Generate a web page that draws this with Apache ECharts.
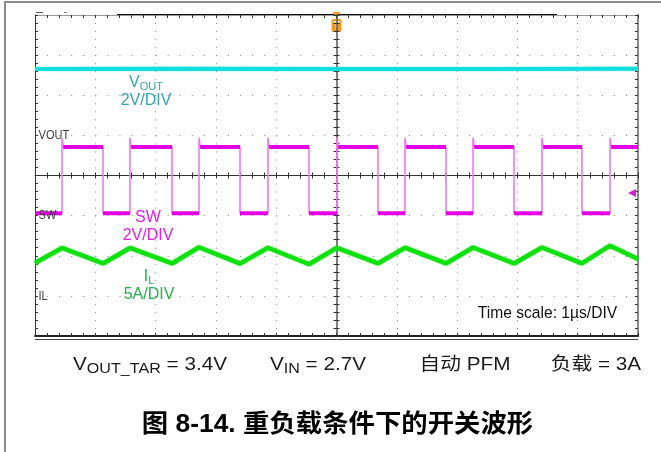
<!DOCTYPE html>
<html>
<head>
<meta charset="utf-8">
<script src="https://cdn.jsdelivr.net/npm/echarts@6/dist/echarts.min.js"></script>
<style>
  html, body { margin: 0; padding: 0; background: #ffffff; }
  #scope { width: 661px; height: 452px; }
</style>
</head>
<body>
<div id="scope"></div>
<script>
// ---- Capture settings ----------------------------------------------------
const timeSpan = [0, 10];            // µs across the screen (1 µs/div)
const triggerTime = 5;               // µs, trigger at screen centre
const triggerLevel = 1.13;           // V on the SW channel

// Channel scale (units per division) and ground marker (divisions from bottom)
const voutScale = 2, voutGround = 5;
const swScale = 2, swGround = 3;
const ilScale = 5, ilGround = 1;

// ---- Output voltage (V) -------------------------------------------------
const voutTime = [0, 2.5, 5, 7.5, 10];
const voutValue = [3.31, 3.32, 3.31, 3.31, 3.32];

// ---- Switch node (V) ----------------------------------------------------
const swRiseTimes = [0.448, 1.575, 2.720, 3.864, 5.008, 6.136, 7.264, 8.408, 9.536];
const swFallTimes = [1.128, 2.272, 3.400, 4.544, 5.688, 6.816, 7.944, 9.071];
const swHigh = 3.42;
const swLow = 0.12;
const swRingPeak = 3.88;

// ---- Inductor current (A) -----------------------------------------------
const ilTime  = [0, 0.448, 1.128, 1.575, 2.272, 2.720, 3.400, 3.864, 4.544, 5.008,
                 5.688, 6.136, 6.816, 7.264, 7.944, 8.408, 9.071, 9.536, 10];
const ilValue = [4.10, 5.97, 4.04, 5.97, 4.04, 6.06, 4.02, 6.00, 3.94, 5.99,
                 4.04, 6.00, 4.04, 6.03, 4.04, 6.03, 4.04, 6.25, 4.60];

// ---- Text ---------------------------------------------------------------
const timeScaleText = 'Time scale: 1µs/DIV';
const conditionTexts = ['V_OUT_TAR = 3.4V', 'V_IN = 2.7V', '自动 PFM', '负载 = 3A'];
const captionText = '图 8-14. 重负载条件下的开关波形';

// ---- Build traces -------------------------------------------------------
const voutData = voutTime.map((t, i) => [t, voutValue[i]]);
const ilData = ilTime.map((t, i) => [t, ilValue[i]]);

const swEvents = swRiseTimes.map(t => ({ t, up: true }))
  .concat(swFallTimes.map(t => ({ t, up: false })))
  .sort((a, b) => a.t - b.t);
const ringWidth = 0.02;
const swEdgeData = [[timeSpan[0], swLow]];
const swLevelData = [[timeSpan[0], swLow]];
swEvents.forEach(e => {
  if (e.up) {
    swEdgeData.push([e.t, swLow], [e.t, swRingPeak], [e.t + ringWidth, swHigh]);
    swLevelData.push([e.t, swLow], [e.t, '-'], [e.t + ringWidth, swHigh]);
  } else {
    swEdgeData.push([e.t, swHigh], [e.t, swLow]);
    swLevelData.push([e.t, swHigh], [e.t, '-'], [e.t, swLow]);
  }
});
const lastLevel = swEvents[swEvents.length - 1].up ? swHigh : swLow;
swEdgeData.push([timeSpan[1], lastLevel]);
swLevelData.push([timeSpan[1], lastLevel]);

// ---- Graticule ----------------------------------------------------------
const G = { left: 35, top: 15, width: 603, height: 321 };
const DIV_X = 10, DIV_Y = 8, MINOR = 5;
const dotColor = '#8a8a8a';
const frameDark = '#333333';
const frameGray = '#9a9a9a';
const minorPitchX = G.width / DIV_X / MINOR;
const minorPitchY = G.height / DIV_Y / MINOR;

function gratAxis(kind, opts) {
  const half = kind === 'x' ? DIV_X / 2 : DIV_Y / 2;
  return Object.assign({
    type: 'value', min: -half, max: half, interval: 1,
    axisLabel: { show: false },
    splitLine: { show: false },
    axisTick: { show: true, inside: true, length: 3, lineStyle: { color: frameDark, width: 1 } },
    minorTick: { show: true, splitNumber: MINOR, length: 3, lineStyle: { color: frameDark, width: 1 } },
    axisLine: { show: true, onZero: false, lineStyle: { color: frameDark, width: 1 } }
  }, opts);
}
function channelAxis(scale, ground) {
  return { type: 'value', show: false, min: -ground * scale, max: (DIV_Y - ground) * scale };
}

const xAxes = [
  // bottom edge with vertical dotted graticule
  gratAxis('x', {
    position: 'bottom',
    axisLine: { show: true, onZero: false, lineStyle: { color: '#222', width: 2 } },
    splitLine: { show: true, lineStyle: { color: dotColor, width: 1, type: [1, minorPitchY - 1] } }
  }),
  // top edge
  gratAxis('x', { position: 'top', axisLine: { show: true, onZero: false, lineStyle: { color: frameGray, width: 1 } } }),
  // centre horizontal line, ticks up and down
  gratAxis('x', { position: 'bottom', axisLine: { show: true, onZero: true, onZeroAxisIndex: 0, lineStyle: { color: frameDark, width: 1 } },
                  axisTick: { show: true, inside: true, length: 3, lineStyle: { color: frameDark } },
                  minorTick: { show: true, splitNumber: MINOR, length: 3, lineStyle: { color: frameDark } } }),
  gratAxis('x', { position: 'bottom', axisLine: { show: false, onZero: true, onZeroAxisIndex: 0 },
                  axisTick: { show: true, inside: false, length: 3, lineStyle: { color: frameDark } },
                  minorTick: { show: true, splitNumber: MINOR, length: 3, lineStyle: { color: frameDark } } }),
  // time axis used by the traces
  { type: 'value', show: false, min: timeSpan[0], max: timeSpan[1] }
];
const yAxes = [
  // left edge with horizontal dotted graticule
  gratAxis('y', {
    position: 'left',
    splitLine: { show: true, lineStyle: { color: dotColor, width: 1, type: [1, minorPitchX - 1] } }
  }),
  // right edge
  gratAxis('y', { position: 'right', axisLine: { show: true, onZero: false, lineStyle: { color: '#8a8a8a', width: 2 } } }),
  // centre vertical line
  gratAxis('y', { position: 'left', axisLine: { show: true, onZero: true, onZeroAxisIndex: 0, lineStyle: { color: '#555', width: 1.5 } },
                  axisTick: { show: true, inside: true, length: 3, lineStyle: { color: frameDark } },
                  minorTick: { show: true, splitNumber: MINOR, length: 3, lineStyle: { color: frameDark } } }),
  gratAxis('y', { position: 'left', axisLine: { show: false, onZero: true, onZeroAxisIndex: 0 },
                  axisTick: { show: true, inside: false, length: 3, lineStyle: { color: frameDark } },
                  minorTick: { show: true, splitNumber: MINOR, length: 3, lineStyle: { color: frameDark } } }),
  channelAxis(voutScale, voutGround),
  channelAxis(swScale, swGround),
  channelAxis(ilScale, ilGround)
];

// ---- Colours and fonts --------------------------------------------------
const C_VOUT = '#12dede', C_VOUT_TXT = '#35a2b6';
const C_SW = '#e400e4', C_SW_EDGE = '#ee7aee', C_SW_TXT = '#e21fe2';
const C_IL = '#0fe00f', C_IL_TXT = '#22b24a';
const SANS = '"Liberation Sans", Arial, "Noto Sans CJK SC", sans-serif';
const CJK = '"Liberation Sans", "Noto Sans CJK SC", sans-serif';

function channelTag(main, sub, scaleText, color, cx, cy) {
  return [
    { type: 'text', x: cx, y: cy, silent: true, z: 20,
      style: { text: '{m|' + main + '}{s|' + sub + '}', align: 'center', verticalAlign: 'middle',
               textAlign: 'center', textVerticalAlign: 'middle',
               rich: { m: { fontSize: 16, fontFamily: SANS, fill: color, color: color },
                       s: { fontSize: 11, fontFamily: SANS, fill: color, color: color, padding: [7, 0, 0, 0] } } } },
    { type: 'text', x: cx, y: cy + 18, silent: true, z: 20,
      style: { text: scaleText, font: '16px ' + SANS, fill: color, align: 'center', verticalAlign: 'middle',
               textAlign: 'center', textVerticalAlign: 'middle' } }
  ];
}
function groundTag(text, y) {
  return { type: 'text', x: 38.5, y: y, scaleX: 0.82, silent: true, z: 20,
           style: { text, font: '13.5px ' + SANS, fill: '#3c3c3c', align: 'left', verticalAlign: 'middle',
                    textAlign: 'left', textVerticalAlign: 'middle' } };
}
function subText(str) {
  // "V_OUT_TAR = 3.4V" -> V with subscript OUT_TAR
  const m = str.match(/^V_([A-Z_]+)(.*)$/);
  if (!m) return '{m|' + str + '}';
  return '{m|V}{s|' + m[1] + '}{m|' + m[2] + '}';
}

const conditionX = [150, 318, 465, 596];
const graphics = [
  // page frame
  { type: 'line', silent: true, shape: { x1: 5, y1: 2, x2: 661, y2: 2 }, style: { stroke: '#8c8c8c', lineWidth: 2 } },
  { type: 'line', silent: true, shape: { x1: 5, y1: 1, x2: 5, y2: 452 }, style: { stroke: '#8c8c8c', lineWidth: 2 } },
  // record-view bar on top edge
  { type: 'line', silent: true, shape: { x1: 117, y1: 15, x2: 557, y2: 15 }, style: { stroke: '#111', lineWidth: 2 } },
  { type: 'line', silent: true, shape: { x1: 36, y1: 12.5, x2: 43, y2: 12.5 }, style: { stroke: '#555', lineWidth: 1 } },
  { type: 'line', silent: true, shape: { x1: 64, y1: 12.5, x2: 67, y2: 12.5 }, style: { stroke: '#777', lineWidth: 1 } },
  // lower rule under the bottom edge
  { type: 'line', silent: true, shape: { x1: 35, y1: 339.5, x2: 638, y2: 339.5 }, style: { stroke: '#444', lineWidth: 1 } },
  groundTag('VOUT', 135),
  groundTag('SW', 215),
  groundTag('IL', 296)
].concat(
  channelTag('V', 'OUT', '2V/DIV', C_VOUT_TXT, 146, 83),
  channelTag('SW', '', '2V/DIV', C_SW_TXT, 148, 218),
  channelTag('I', 'L', '5A/DIV', C_IL_TXT, 149, 277),
  [{ type: 'text', x: 547.5, y: 314, silent: true, z: 20,
     style: { text: timeScaleText, font: '15.6px ' + SANS, fill: '#111', align: 'center', verticalAlign: 'middle',
              textAlign: 'center', textVerticalAlign: 'middle' } }],
  conditionTexts.map((t, i) => ({
    type: 'text', x: conditionX[i], y: 365, scaleX: 1.15, silent: true,
    style: { text: subText(t), align: 'center', verticalAlign: 'middle', textAlign: 'center', textVerticalAlign: 'middle',
             rich: { m: { fontSize: 18, fontFamily: CJK, fill: '#1a1a1a', color: '#1a1a1a' },
                     s: { fontSize: 14, fontFamily: CJK, fill: '#1a1a1a', color: '#1a1a1a', padding: [8, 0, 0, 0] } } }
  })),
  [{ type: 'text', x: 337.5, y: 425, scaleX: 1.055, silent: true,
     style: { text: captionText, font: 'bold 25px ' + CJK, fill: '#000', align: 'center', verticalAlign: 'middle',
              textAlign: 'center', textVerticalAlign: 'middle' } }]
);

const chart = echarts.init(document.getElementById('scope'), null, { renderer: 'canvas' });
chart.setOption({
  animation: false,
  backgroundColor: '#ffffff',
  grid: { left: G.left, top: G.top, width: G.width, height: G.height, containLabel: false },
  xAxis: xAxes,
  yAxis: yAxes,
  series: [
    { name: 'VOUT', type: 'line', xAxisIndex: 4, yAxisIndex: 4, data: voutData, symbol: 'none', z: 3,
      lineStyle: { color: C_VOUT, width: 4, shadowColor: 'rgba(18,222,222,0.6)', shadowBlur: 2 } },
    { name: 'SW edges', type: 'line', xAxisIndex: 4, yAxisIndex: 5, data: swEdgeData, symbol: 'none', z: 3,
      lineStyle: { color: C_SW_EDGE, width: 1.6 },
      markPoint: { symbol: 'triangle', symbolSize: [8, 8], symbolRotate: 90, symbolOffset: [-6, 0], silent: true,
                   itemStyle: { color: '#cc22cc' }, label: { show: false },
                   data: [{ coord: [timeSpan[1], triggerLevel] }] } },
    { name: 'SW', type: 'line', xAxisIndex: 4, yAxisIndex: 5, data: swLevelData, symbol: 'none', z: 4,
      connectNulls: false, lineStyle: { color: C_SW, width: 4 } },
    { name: 'IL', type: 'line', xAxisIndex: 4, yAxisIndex: 6, data: ilData, symbol: 'none', z: 3,
      lineStyle: { color: C_IL, width: 4.5, shadowColor: 'rgba(15,224,15,0.6)', shadowBlur: 2 } }
  ],
  graphic: graphics
});

// Trigger-position flag above the screen centre
const trigX = chart.convertToPixel({ xAxisIndex: 4 }, triggerTime);
chart.setOption({
  graphic: graphics.concat([
    { type: 'polygon', silent: true, shape: { points: [[trigX - 4, 12], [trigX + 4, 12], [trigX, 17]] },
      style: { fill: '#f39a1e' } },
    { type: 'rect', silent: true, shape: { x: trigX - 5, y: 19, width: 10, height: 13, r: 2 },
      style: { fill: '#f39a1e' } },
    { type: 'text', x: trigX, y: 25.5, silent: true,
      style: { text: 'T', font: 'bold 11px ' + SANS, fill: '#ffffff', align: 'center', verticalAlign: 'middle',
               textAlign: 'center', textVerticalAlign: 'middle' } }
  ])
});
</script>
</body>
</html>
